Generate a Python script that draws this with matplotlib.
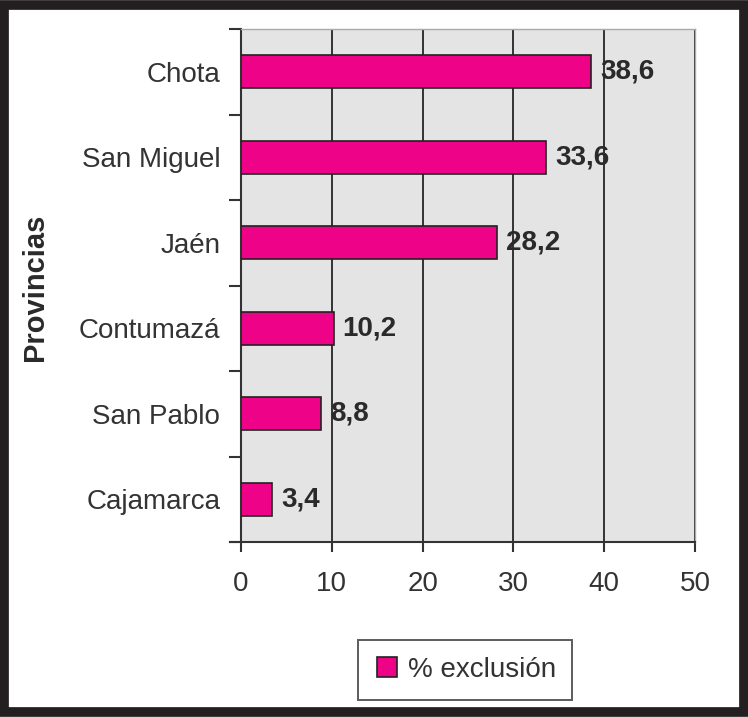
"""Bar chart: % exclusión by province (Cajamarca)."""
import numpy as np
import matplotlib.pyplot as plt
from matplotlib.patches import Rectangle
from matplotlib.lines import Line2D

provinces = ["Cajamarca", "San Pablo", "Contumazá", "Jaén", "San Miguel", "Chota"]
exclusion = [3.4, 8.8, 10.2, 28.2, 33.6, 38.6]
value_labels = ["3,4", "8,8", "10,2", "28,2", "33,6", "38,6"]
x_ticks = [0, 10, 20, 30, 40, 50]

plt.rcParams['font.family'] = ['Liberation Sans', 'DejaVu Sans']
FS = 20

fig = plt.figure(figsize=(7.48, 7.17), dpi=100)
ax = fig.add_axes([241 / 748, 1 - 542 / 717, 454 / 748, 513 / 717])

pink = '#EE0288'
ypos = np.arange(len(provinces))
ax.barh(ypos, exclusion, height=0.39, color=pink, edgecolor='#222222', linewidth=1.2, zorder=3)

for y, v, lab in zip(ypos, exclusion, value_labels):
    ax.text(v + 1.0, y, lab, va='center', ha='left', fontsize=FS, fontweight='bold',
            color='#2a2a2a', zorder=4)

ax.set_facecolor('#E3E4E3')
ax.set_xlim(0, 50)
ax.set_ylim(-0.5, len(provinces) - 0.5)
ax.set_xticks(x_ticks)
ax.set_xticklabels([str(t) for t in x_ticks], fontsize=FS, color='#333333')
ax.set_yticks(ypos)
ax.set_yticklabels(provinces, fontsize=FS, color='#333333')
ax.tick_params(axis='y', length=0, pad=15)
ax.tick_params(axis='x', length=7, width=1.5, color='#333333', pad=14)

# category boundary ticks on left axis
ax.set_yticks(np.arange(-0.5, len(provinces), 1.0), minor=True)
ax.tick_params(axis='y', which='minor', length=9, width=1.5, color='#333333')

ax.xaxis.grid(True, color='#333333', linewidth=1.4, zorder=1)
ax.set_axisbelow(True)

for side in ['left', 'bottom']:
    ax.spines[side].set_color('#333333')
    ax.spines[side].set_linewidth(1.5)
for side in ['top', 'right']:
    ax.spines[side].set_color('#aaaaaa')
    ax.spines[side].set_linewidth(1.0)
ax.spines['bottom'].set_bounds(-1.2, 50)
ax.spines['bottom'].set_clip_on(False)

fig.text(35 / 748, 1 - 287 / 717, 'Provincias', rotation=90, ha='center', va='center',
         fontsize=21, fontweight='bold', color='#2a2a2a')

handle = Line2D([], [], marker='s', linestyle='none', markersize=15,
                markerfacecolor=pink, markeredgecolor='#222222', markeredgewidth=1.2)
leg = fig.legend([handle], ['% exclusión'], loc='center',
                 bbox_to_anchor=(465 / 748, 1 - 670 / 717), fontsize=FS,
                 frameon=True, fancybox=False, handletextpad=0.3,
                 borderpad=0.6, handlelength=0.9, borderaxespad=0)
leg.get_frame().set_edgecolor('#333333')
leg.get_frame().set_linewidth(1.4)
for t in leg.get_texts():
    t.set_color('#333333')

# outer thick frame
fig.patches.append(Rectangle((0.005, 0.007), 0.99, 0.986, transform=fig.transFigure,
                             fill=False, edgecolor='#231f20', linewidth=7))

fig.savefig('out.png', dpi=100)
